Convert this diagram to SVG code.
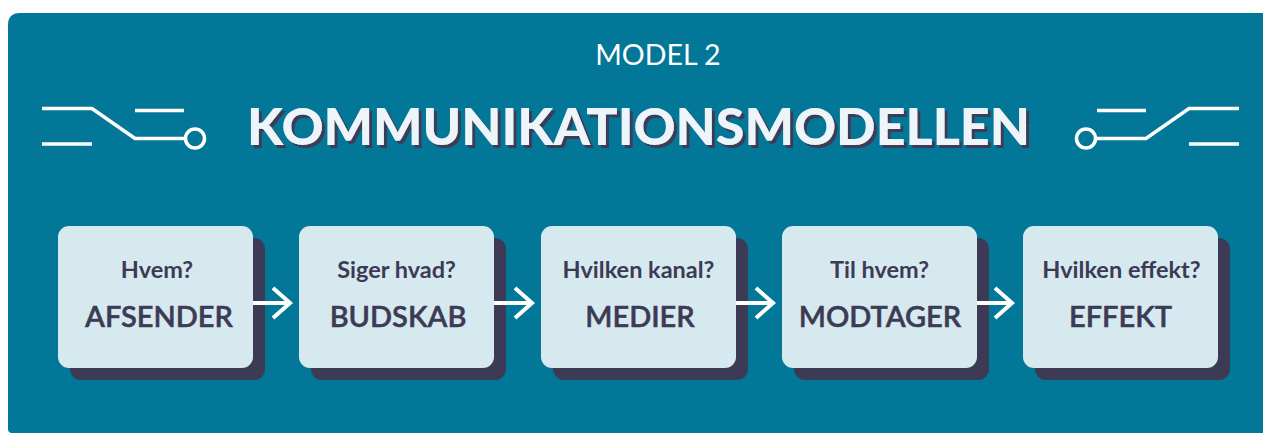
<svg xmlns="http://www.w3.org/2000/svg" width="1263" height="433" viewBox="0 0 1263 433">
<defs>
<filter id="tshadow" x="-5%" y="-20%" width="110%" height="150%">
<feFlood flood-color="#3c3a55" result="c"/>
<feComposite in="c" in2="SourceAlpha" operator="in" result="s"/>
<feOffset in="s" dx="3" dy="3" result="o"/>
<feMerge><feMergeNode in="o"/><feMergeNode in="SourceGraphic"/></feMerge>
</filter>
</defs>
<style>
.bg{fill:#037797}
.deco{fill:none;stroke:#ffffff;stroke-width:3.5;stroke-linecap:butt;stroke-linejoin:miter}
.shadow{fill:#3c3a55}
.box{fill:#d6e9ef}
.q{font-family:Lato,"Liberation Sans",sans-serif;font-weight:700;font-size:23.5px;fill:#3c3a55;text-anchor:middle}
.a{font-family:Lato,"Liberation Sans",sans-serif;font-weight:600;font-size:29px;fill:#3c3a55;stroke:#3c3a55;stroke-width:0.5;text-anchor:middle}
.arrow{fill:none;stroke:#ffffff;stroke-width:4}
.title{font-family:Lato,"Liberation Sans",sans-serif;font-weight:900;font-size:52px;text-anchor:middle;fill:#eef5fa}
</style>
<path class="bg" d="M8,25 Q8,13 20,13 H1263 V433 H12 Q8,433 8,429 Z"/>
<text x="658" y="65" style="font-family:Lato,'Liberation Sans',sans-serif;font-size:28.6px;fill:#ffffff;text-anchor:middle">MODEL 2</text>
<g id="title">
<text class="title" x="638.5" y="145" filter="url(#tshadow)">KOMMUNIKATIONSMODELLEN</text>
</g>
<g id="deco-left">
<path class="deco" d="M42,108.5 H92 L135,138.5 H184.5"/>
<path class="deco" d="M135,110.5 H184"/>
<path class="deco" d="M42,144 H92"/>
<circle class="deco" cx="195" cy="138.5" r="9.5"/>
</g>
<g id="deco-right">
<path class="deco" d="M1239,108.5 H1189 L1146,138.5 H1096.5"/>
<path class="deco" d="M1146,110.5 H1097"/>
<path class="deco" d="M1239,144 H1189"/>
<circle class="deco" cx="1086" cy="138.5" r="9.5"/>
</g>
<g id="node-afsender">
<rect class="shadow" x="70" y="238" width="195" height="142" rx="11"/>
<rect class="box" x="58" y="226" width="195" height="142" rx="11"/>
<text class="q" x="157" y="278">Hvem?</text>
<text class="a" x="159" y="327">AFSENDER</text>
</g>
<g id="node-budskab">
<rect class="shadow" x="311" y="238" width="195" height="142" rx="11"/>
<rect class="box" x="299" y="226" width="195" height="142" rx="11"/>
<text class="q" x="396.5" y="278">Siger hvad?</text>
<text class="a" x="398" y="327">BUDSKAB</text>
</g>
<g id="node-medier">
<rect class="shadow" x="553" y="238" width="195" height="142" rx="11"/>
<rect class="box" x="541" y="226" width="195" height="142" rx="11"/>
<text class="q" x="638.5" y="278">Hvilken kanal?</text>
<text class="a" x="640" y="327">MEDIER</text>
</g>
<g id="node-modtager">
<rect class="shadow" x="794" y="238" width="195" height="142" rx="11"/>
<rect class="box" x="782" y="226" width="195" height="142" rx="11"/>
<text class="q" x="879.5" y="278">Til hvem?</text>
<text class="a" x="880" y="327">MODTAGER</text>
</g>
<g id="node-effekt">
<rect class="shadow" x="1035" y="238" width="195" height="142" rx="11"/>
<rect class="box" x="1023" y="226" width="195" height="142" rx="11"/>
<text class="q" x="1121.5" y="278">Hvilken effekt?</text>
<text class="a" x="1120.5" y="327">EFFEKT</text>
</g>
<g id="connectors">
<path class="arrow" d="M253,303 H290 M273,288 L290,303 L273,318"/>
<path class="arrow" d="M494,303 H532 M515,288 L532,303 L515,318"/>
<path class="arrow" d="M736,303 H773 M756,288 L773,303 L756,318"/>
<path class="arrow" d="M977,303 H1012 M995,288 L1012,303 L995,318"/>
</g>
</svg>
